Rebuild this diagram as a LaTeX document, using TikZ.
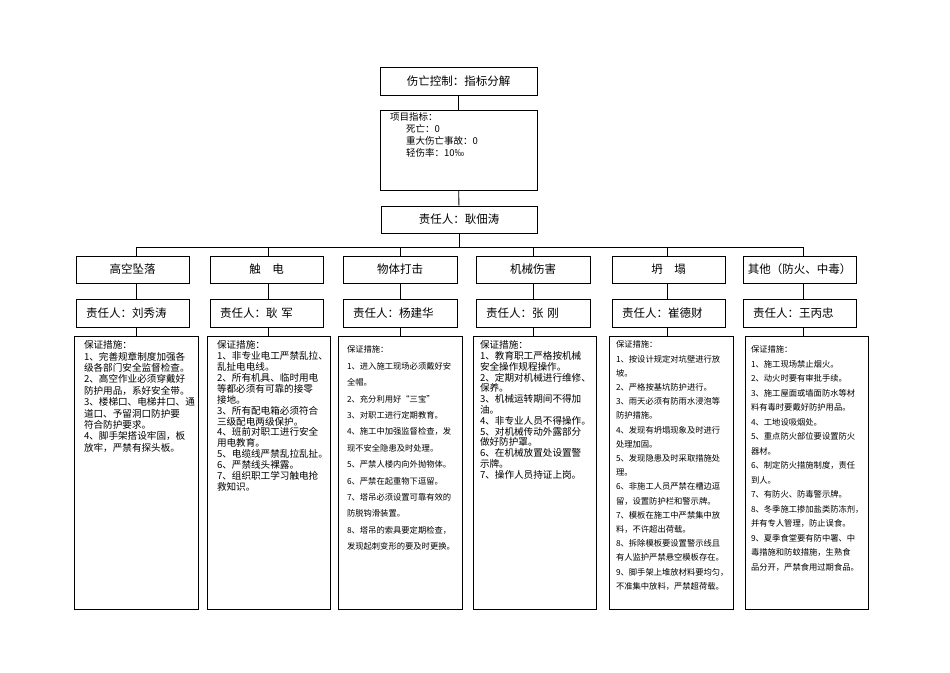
\documentclass[tikz,border=0pt]{standalone}
\usepackage{fontspec}
\setmainfont{Noto Sans CJK SC}
\usetikzlibrary{positioning}

\begin{document}
\begin{tikzpicture}[x=1pt, y=-1pt, line width=0.8pt,
  box/.style={draw, inner sep=0pt, font=\fontsize{11.5}{13.8}\selectfont},
  mbox/.style={draw, inner sep=0pt, minimum height=273pt},
  bigtext/.style={inner sep=0pt, align=left, font=\fontsize{9.6}{#1}\selectfont},
  smalltext/.style={inner sep=0pt, align=left, font=\fontsize{8.3}{#1}\selectfont}]
  \useasboundingbox (0,0) rectangle (950,672);

  % Top of the tree: goal, targets, person in charge
  \node[box, minimum width=157pt, minimum height=28pt] (goal) at (458.5,81) {伤亡控制：指标分解};
  \node[draw, minimum width=157pt, minimum height=80pt] (target) at (458.5,150) {};
  \node[inner sep=0pt, align=left, font=\fontsize{9.5}{12}\selectfont,
        below right=3pt and 10pt of target.north west] (targettext)
    {项目指标：\\ \hspace*{16pt}死亡：0\\ \hspace*{16pt}重大伤亡事故：0\\ \hspace*{16pt}轻伤率：10‰};
  \node[box, minimum width=156pt, minimum height=27pt] (lead) at (459,219.5) {责任人：耿佃涛};

  \draw (goal) -- (target);
  \draw (target) -- (lead);

  % Bus line to the six kinds of hazard
  \coordinate (busL) at (136,247);
  \coordinate (busR) at (803,247);
  \draw (lead.south) -- (lead.south |- busL);
  \draw (busL) -- (busR);

  % Hazard and person in charge for each column
  \foreach \cat/\who/\cx/\w/\dx [count=\i] in {
      高空坠落/刘秀涛/132.5/113/136,
      触\quad 电/耿 军/266.5/113/268,
      物体打击/杨建华/400/114/400,
      机械伤害/张 刚/533/114/533,
      坍\quad 塌/崔德财/668.5/113/667,
      其他（防火、中毒）/王丙忠/799.5/113/803} {
    \pgfmathsetmacro\tw{\w-20}
    \coordinate (d\i) at (\dx,247);
    \node[box, minimum width=\w pt, minimum height=27pt] (cat\i) at (\cx,269.5) {\cat};
    \node[box, minimum width=\w pt, minimum height=28pt, inner xsep=10pt,
          text width=\tw pt, align=left] (who\i) at (\cx,313) {责任人：\who};
    \draw (d\i) -- (cat\i.north -| d\i);
    \draw (cat\i.south -| d\i) -- (who\i.north -| d\i);
  }

  % Boxes with the safety measures
  \node[mbox, minimum width=124pt] (m1) at (136,472.5) {};
  \node[mbox, minimum width=123pt] (m2) at (268.5,472.5) {};
  \node[mbox, minimum width=124pt] (m3) at (400,472.5) {};
  \node[mbox, minimum width=123pt] (m4) at (534.5,472.5) {};
  \node[mbox, minimum width=124pt] (m5) at (671,472.5) {};
  \node[mbox, minimum width=123pt] (m6) at (806.5,472.5) {};
  \foreach \i in {1,...,6}
    \draw (who\i.south -| d\i) -- (m\i.north -| d\i);

  \node[bigtext=11.4, below right=4.7pt and 10pt of m1.north west] (t1)
    {保证措施：\\1、完善规章制度加强各\\级各部门安全监督检查。\\2、高空作业必须穿戴好\\防护用品，系好安全带。\\3、楼梯口、电梯井口、通\\道口、予留洞口防护要\\符合防护要求。\\4、脚手架搭设牢固，板\\放牢，严禁有探头板。};
  \node[bigtext=10.9, below right=4.7pt and 10pt of m2.north west] (t2)
    {保证措施：\\1、非专业电工严禁乱拉、\\乱扯电电线。\\2、所有机具、临时用电\\等都必须有可靠的接零\\接地。\\3、所有配电箱必须符合\\三级配电两级保护。\\4、班前对职工进行安全\\用电教育。\\5、电缆线严禁乱拉乱扯。\\6、严禁线头裸露。\\7、组织职工学习触电抢\\救知识。};
  \node[smalltext=16.4, below right=10pt and 9pt of m3.north west] (t3)
    {保证措施：\\1、进入施工现场必须戴好安\\全帽。\\2、充分利用好“三宝”\\3、对职工进行定期教育。\\4、施工中加强监督检查，发\\现不安全隐患及时处理。\\5、严禁人楼内向外抛物体。\\6、严禁在起重物下逗留。\\7、塔吊必须设置可靠有效的\\防脱钩滑装置。\\8、塔吊的索具要定期检查，\\发现起刺变形的要及时更换。};
  \node[bigtext=10.8, below right=4.7pt and 7pt of m4.north west] (t4)
    {保证措施：\\1、教育职工严格按机械\\安全操作规程操作。\\2、定期对机械进行维修、\\保养。\\3、机械运转期间不得加\\油。\\4、非专业人员不得操作。\\5、对机械传动外露部分\\做好防护罩。\\6、在机械放置处设置警\\示牌。\\7、操作人员持证上岗。};
  \node[smalltext=14.2, below right=5pt and 7pt of m5.north west] (t5)
    {保证措施：\\1、按设计规定对坑壁进行放\\坡。\\2、严格按基坑防护进行。\\3、雨天必须有防雨水浸泡等\\防护措施。\\4、发现有坍塌现象及时进行\\处理加固。\\5、发现隐患及时采取措施处\\理。\\6、非施工人员严禁在槽边逗\\留，设置防护栏和警示牌。\\7、模板在施工中严禁集中放\\料，不许超出荷载。\\8、拆除模板要设置警示线且\\有人监护严禁悬空模板存在。\\9、脚手架上堆放材料要均匀，\\不准集中放料，严禁超荷载。};
  \node[smalltext=14.5, below right=10pt and 6pt of m6.north west] (t6)
    {保证措施：\\1、施工现场禁止烟火。\\2、动火时要有审批手续。\\3、施工屋面或墙面防水等材\\料有毒时要戴好防护用品。\\4、工地设吸烟处。\\5、重点防火部位要设置防火\\器材。\\6、制定防火措施制度，责任\\到人。\\7、有防火、防毒警示牌。\\8、冬季施工掺加盐类防冻剂，\\并有专人管理，防止误食。\\9、夏季食堂要有防中署、中\\毒措施和防蚊措施，生熟食\\品分开，严禁食用过期食品。};
\end{tikzpicture}
\end{document}
